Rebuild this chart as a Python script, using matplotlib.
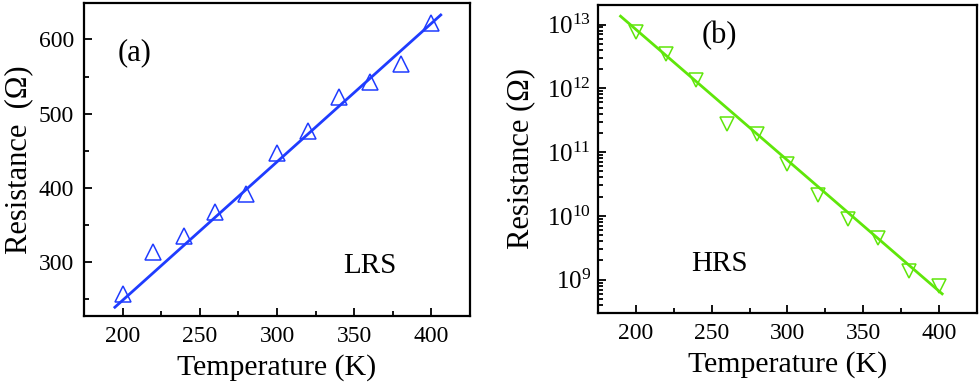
import numpy as np
import matplotlib.pyplot as plt
from matplotlib.ticker import MultipleLocator, LogLocator, NullFormatter

plt.rcParams['font.family'] = ['Liberation Serif', 'DejaVu Serif']
plt.rcParams['mathtext.fontset'] = 'custom'
plt.rcParams['mathtext.rm'] = 'Liberation Serif'

# data
temp = [200, 220, 240, 260, 280, 300, 320, 340, 360, 380, 400]
r_lrs = [257, 313, 335, 368, 391, 447, 477, 522, 542, 567, 622]
r_hrs = [7.6e12, 3.4e12, 1.35e12, 2.8e11, 1.9e11, 6.5e10, 2.1e10, 9.0e9, 4.5e9, 1.35e9, 7.9e8]

# fitted lines (end points)
fit_a_x = [195, 406]
fit_a_y = [239, 633]
fit_b_x = [190, 402]
fit_b_y = [1.35e13, 6.0e8]

blue = '#1f3cff'
green = '#5fe60a'

fig = plt.figure(figsize=(9.8, 3.86), dpi=100)
ax1 = fig.add_axes([0.0857, 0.181, 0.394, 0.811])
ax2 = fig.add_axes([0.610, 0.189, 0.387, 0.799])

# (a) LRS
ax1.plot(fit_a_x, fit_a_y, color=blue, lw=2)
ax1.plot(temp, r_lrs, ls='none', marker='^', ms=11, mfc='none', mec=blue, mew=1.1)
ax1.set_xlim(175, 425)
ax1.set_ylim(227, 649)
ax1.xaxis.set_major_locator(MultipleLocator(50))
ax1.xaxis.set_minor_locator(MultipleLocator(25))
ax1.yaxis.set_major_locator(MultipleLocator(100))
ax1.yaxis.set_minor_locator(MultipleLocator(50))
ax1.set_xlabel('Temperature (K)', fontsize=21.5, labelpad=5)
ax1.set_ylabel('Resistance  (\u03a9)', fontsize=22, labelpad=4)
ax1.text(0.132, 0.843, '(a)', fontsize=22, ha='center', va='center', transform=ax1.transAxes)
ax1.text(0.74, 0.16, 'LRS', fontsize=21, ha='center', va='center', transform=ax1.transAxes)

# (b) HRS
ax2.plot(fit_b_x, fit_b_y, color=green, lw=2)
ax2.plot(temp, r_hrs, ls='none', marker='v', ms=10, mfc='none', mec=green, mew=1.1)
ax2.set_yscale('log')
ax2.set_xlim(175, 425)
ax2.set_ylim(3.0e8, 2.05e13)
ax2.xaxis.set_major_locator(MultipleLocator(50))
ax2.xaxis.set_minor_locator(MultipleLocator(25))
ax2.yaxis.set_major_locator(LogLocator(base=10, numticks=20))
ax2.yaxis.set_minor_locator(LogLocator(base=10, subs=np.arange(2, 10), numticks=20))
ax2.yaxis.set_minor_formatter(NullFormatter())
ax2.set_xlabel('Temperature (K)', fontsize=21.5, labelpad=5)
ax2.set_ylabel('Resistance (\u03a9)', fontsize=22, labelpad=8)
ax2.text(0.32, 0.16, 'HRS', fontsize=21, ha='center', va='center', transform=ax2.transAxes)
ax2.text(0.32, 0.90, '(b)', fontsize=22, ha='center', va='center', transform=ax2.transAxes)

for ax in (ax1, ax2):
    for s in ax.spines.values():
        s.set_linewidth(1.6)
    ax.tick_params(which='both', direction='in', top=False, right=False, width=1.3)
    ax.tick_params(which='major', length=6, labelsize=17, pad=7)
    ax.tick_params(which='minor', length=3.5)
ax2.tick_params(axis='y', which='major', labelsize=18, pad=5)

fig.savefig('out.png', dpi=100)
